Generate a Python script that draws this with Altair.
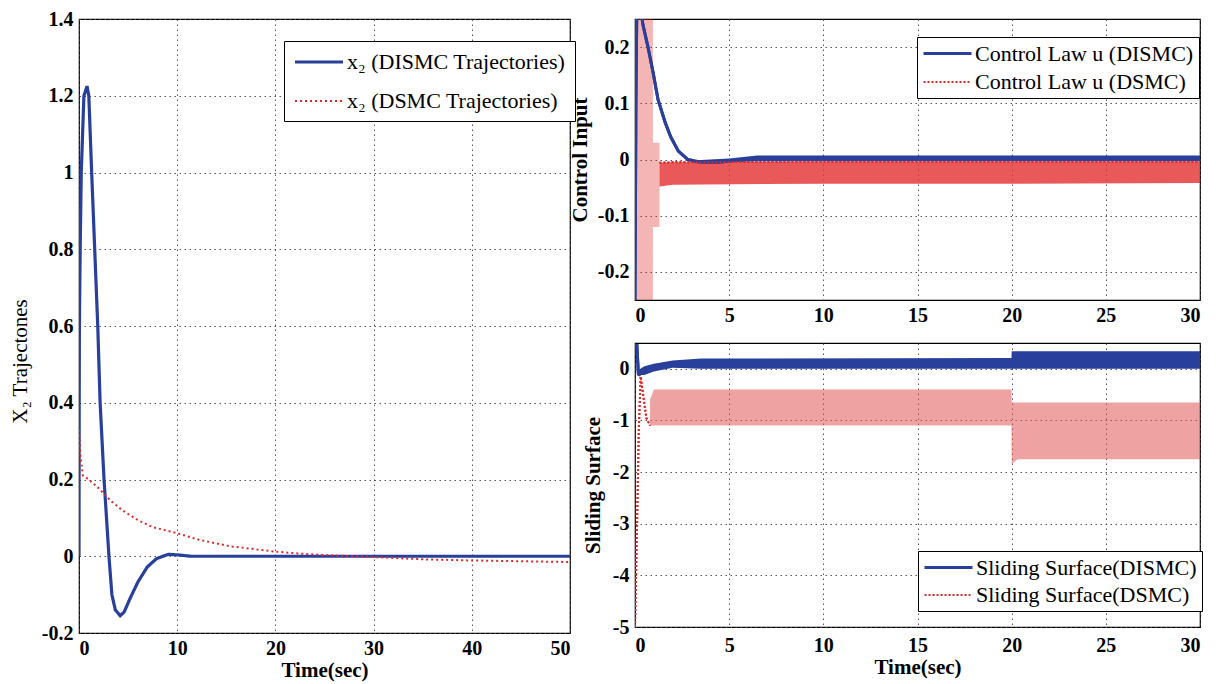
import altair as alt
import pandas as pd

SERIF = "Liberation Serif"
BLUE = "#283f9c"
RED = "#e02a2a"

# ---------------- Left panel: x2 trajectories ----------------
L_T_DISMC = [0, 0.02, 0.04, 0.12, 0.23, 0.5, 0.82, 1.0, 1.29, 1.6, 1.91, 2.15, 2.55, 3.05, 3.35, 3.7,
             4.2, 4.6, 5.2, 6.0, 6.95, 7.9, 9.1, 10.3, 11.4, 20, 30, 40, 50]
L_X_DISMC = [0.0, 0.4, 0.6, 0.8, 1.0, 1.2, 1.225, 1.2, 1.0, 0.8, 0.6, 0.4, 0.2, 0.0, -0.1, -0.14,
             -0.155, -0.145, -0.11, -0.067, -0.028, -0.006, 0.005, 0.003, 0.0, 0.0, 0.0, 0.0, 0.0]
L_T_DSMC = [0, 0.15, 0.4, 1.0, 2.1, 3.2, 4.4, 6.0, 7.5, 10, 12.2, 15.4, 20, 23, 26, 30, 35, 40, 45, 50]
L_X_DSMC = [0.33, 0.26, 0.21, 0.2, 0.175, 0.145, 0.12, 0.094, 0.076, 0.06, 0.043, 0.026, 0.012,
            0.006, 0.002, -0.002, -0.008, -0.011, -0.013, -0.015]
L_NAMES = ["x\u2082 (DISMC Trajectories)", "x\u2082 (DSMC Trajectories)"]

# ---------------- Top right: control input ----------------
C_T_DISMC = [0, 0.05, 0.1, 0.3, 0.42, 0.69, 0.96, 1.22, 1.6, 1.9, 2.3, 2.8, 3.5, 4.4, 5.3, 6.5, 30]
C_U_DISMC = [-0.25, 0.1, 0.28, 0.27, 0.24, 0.2, 0.155, 0.107, 0.066, 0.04, 0.015, 0.0, -0.005,
             -0.005, -0.002, 0.002, 0.002]
C_BAND_DISMC_T = [3.0, 5.0, 6.5, 30]
C_BAND_DISMC_LO = [-0.006, -0.005, -0.003, -0.003]
C_BAND_DISMC_HI = [-0.002, 0.002, 0.007, 0.007]
C_BURST_DSMC_T = [0.08, 0.95, 0.951, 1.3]
C_BURST_DSMC_LO = [-0.25, -0.25, -0.12, -0.12]
C_BURST_DSMC_HI = [0.25, 0.25, 0.03, 0.03]
C_BAND_DSMC_T = [1.3, 2.0, 10, 20, 30]
C_BAND_DSMC_LO = [-0.048, -0.045, -0.043, -0.043, -0.042]
C_BAND_DSMC_HI = [-0.006, -0.005, -0.004, -0.004, -0.004]
C_NAMES = ["Control Law u (DISMC)", "Control Law u (DSMC)"]

# ---------------- Bottom right: sliding surface ----------------
S_T_DISMC = [0, 0.1, 0.18, 0.3]
S_V_DISMC = [0.45, 0.45, -0.1, -0.12]
S_BAND_DISMC_T = [0.2, 0.5, 1.0, 2.0, 3.5, 19.99, 20.0, 30]
S_BAND_DISMC_LO = [-0.12, -0.12, -0.05, 0.02, 0.0, 0.0, 0.0, 0.0]
S_BAND_DISMC_HI = [-0.02, 0.05, 0.1, 0.16, 0.2, 0.21, 0.34, 0.34]
S_T_DSMC = [0, 0.1, 0.2, 0.3, 0.45, 0.6, 0.8]
S_V_DSMC = [-5.0, -3.2, -1.2, -0.15, -0.55, -0.95, -1.1]
S_BAND_DSMC_T = [0.8, 1.0, 5, 10, 19.99, 20.0, 20.3, 25, 30]
S_BAND_DSMC_LO = [-1.1, -1.1, -1.1, -1.1, -1.1, -1.85, -1.75, -1.75, -1.75]
S_BAND_DSMC_HI = [-0.6, -0.4, -0.4, -0.4, -0.4, -0.65, -0.65, -0.65, -0.65]
S_NAMES = ["Sliding Surface(DISMC)", "Sliding Surface(DSMC)"]

LABEL_EXPR = ("datum.value == 0 ? '0' : (datum.value < 0 ? '-' + format(-datum.value, '~g') "
              ": format(datum.value, '~g'))")

# legend line symbol: starts at the left of a 20px symbol cell and runs ~48px to the right
LEG_SYMBOL = "M-1,0L3.8,0"


def lines_df(t1, v1, t2, v2, names):
    rows = []
    for i, (t, v) in enumerate(zip(t1, v1)):
        rows.append({"t": t, "v": v, "s": names[0], "i": i})
    for i, (t, v) in enumerate(zip(t2, v2)):
        rows.append({"t": t, "v": v, "s": names[1], "i": i})
    return pd.DataFrame(rows)


def band_df(t, lo, hi):
    return pd.DataFrame({"t": t, "lo": lo, "hi": hi})


def make_legend(x, y, font, row_pad, pad):
    return alt.Legend(orient="none", legendX=x, legendY=y, title=None,
                      fillColor="white", strokeColor="black", padding=pad,
                      symbolType=LEG_SYMBOL, symbolSize=400,
                      symbolStrokeWidth=2.5, labelFont=SERIF, labelFontSize=font,
                      labelColor="black", rowPadding=row_pad, labelOffset=30,
                      labelLimit=400)


def xaxis(values, title, label_pad=5):
    kw = dict(values=values, labelExpr=LABEL_EXPR, labelPadding=label_pad)
    if title:
        kw.update(title=title, titleFontWeight="bold", titlePadding=1, titleFontSize=21)
    else:
        kw.update(title=None)
    return alt.Axis(**kw)


def yaxis(values, title, weight, pad, **extra):
    return alt.Axis(values=values, labelExpr=LABEL_EXPR, title=title, titleFontWeight=weight,
                    titlePadding=pad, labelPadding=6, titleFontSize=21, **extra)


def panel(ldf, names, xdom, xvals, xtitle, ydom, yvals, ytitle, yweight, ypad, legend,
          w, h, bands, label_pad=5):
    x = alt.X("t:Q", scale=alt.Scale(domain=xdom, nice=False, zero=False),
              axis=xaxis(xvals, xtitle, label_pad))
    y = alt.Y("v:Q", scale=alt.Scale(domain=ydom, nice=False, zero=False),
              axis=yaxis(yvals, ytitle, yweight, ypad))
    layers = []
    for bdf, color, op in bands:
        layers.append(
            alt.Chart(bdf).mark_area(color=color, opacity=op, clip=True, interpolate="linear").encode(
                x=alt.X("t:Q", scale=alt.Scale(domain=xdom, nice=False, zero=False)),
                y=alt.Y("lo:Q", scale=alt.Scale(domain=ydom, nice=False, zero=False)),
                y2="hi:Q",
            )
        )
    line = alt.Chart(ldf).mark_line(clip=True).encode(
        x=x, y=y,
        color=alt.Color("s:N", scale=alt.Scale(domain=names, range=[BLUE, RED]), legend=legend),
        strokeDash=alt.StrokeDash("s:N", scale=alt.Scale(domain=names, range=[[1, 0], [2, 2]]),
                                  legend=legend),
        strokeWidth=alt.StrokeWidth("s:N", scale=alt.Scale(domain=names, range=[3, 2]),
                                    legend=None),
        order="i:Q",
    )
    return alt.layer(line, *layers, line).properties(width=w, height=h)


left_df = lines_df(L_T_DISMC, L_X_DISMC, L_T_DSMC, L_X_DSMC, L_NAMES)
left_leg = make_legend(205, 22, 22, 17, 9)
left = alt.layer(
    alt.Chart(left_df).mark_line(clip=True).encode(
        x=alt.X("t:Q", scale=alt.Scale(domain=[0, 50], nice=False),
                axis=xaxis([0, 10, 20, 30, 40, 50], "Time(sec)")),
        y=alt.Y("v:Q", scale=alt.Scale(domain=[-0.2, 1.4], nice=False),
                axis=yaxis([-0.2, 0, 0.2, 0.4, 0.6, 0.8, 1.0, 1.2, 1.4], "X\u2082 Trajectones",
                           "normal", 11, titleY=342)),
        color=alt.Color("s:N", scale=alt.Scale(domain=L_NAMES, range=[BLUE, RED]), legend=left_leg),
        strokeDash=alt.StrokeDash("s:N", scale=alt.Scale(domain=L_NAMES, range=[[1, 0], [2, 3]]),
                                  legend=left_leg),
        strokeWidth=alt.StrokeWidth("s:N", scale=alt.Scale(domain=L_NAMES, range=[3.2, 2]), legend=None),
        order="i:Q",
    )
).properties(width=491, height=614)

ctrl_df = lines_df(C_T_DISMC, C_U_DISMC, [C_BAND_DSMC_T[0]] + C_BAND_DSMC_T,
                   [C_BAND_DSMC_HI[0]] + C_BAND_DSMC_HI, C_NAMES)
ctrl = panel(
    ctrl_df, C_NAMES, [0, 30], [0, 5, 10, 15, 20, 25, 30], None,
    [-0.25, 0.25], [-0.2, -0.1, 0, 0.1, 0.2], "Control Input", "bold", 7,
    make_legend(282, 18, 22, 6, 5), 565, 281,
    [
        (band_df(C_BURST_DSMC_T, C_BURST_DSMC_LO, C_BURST_DSMC_HI), RED, 0.35),
        (band_df(C_BAND_DSMC_T, C_BAND_DSMC_LO, C_BAND_DSMC_HI), "#e43434", 0.82),
        (band_df(C_BAND_DISMC_T, C_BAND_DISMC_LO, C_BAND_DISMC_HI), BLUE, 1.0),
    ],
)

surf_df = lines_df(S_T_DISMC, S_V_DISMC, S_T_DSMC, S_V_DSMC, S_NAMES)
surf = panel(
    surf_df, S_NAMES, [0, 30], [0, 5, 10, 15, 20, 25, 30], "Time(sec)",
    [-5, 0.5], [-5, -4, -3, -2, -1, 0], "Sliding Surface", "bold", 9,
    make_legend(283, 208, 22, 5, 5), 565, 284,
    [
        (band_df(S_BAND_DSMC_T, S_BAND_DSMC_LO, S_BAND_DSMC_HI), "#e05555", 0.55),
        (band_df(S_BAND_DISMC_T, S_BAND_DISMC_LO, S_BAND_DISMC_HI), BLUE, 1.0),
    ],
    label_pad=8,
)

right = alt.vconcat(ctrl, surf, spacing=43, bounds="flush").resolve_scale(
    color="independent", strokeDash="independent", strokeWidth="independent")

chart = alt.hconcat(left, right, spacing=65, bounds="flush").resolve_scale(
    color="independent", strokeDash="independent", strokeWidth="independent"
).properties(
    padding={"left": 8, "top": 8, "right": 5, "bottom": 5}
).configure(
    font=SERIF,
).configure_view(
    stroke="black", strokeWidth=1.2
).configure_axis(
    labelFont=SERIF, labelFontSize=20, labelFontWeight="bold", labelColor="black",
    titleFont=SERIF, titleFontSize=21, titleColor="black",
    grid=True, gridColor="#444", gridDash=[1.5, 3.5], gridOpacity=0.9,
    ticks=False, domain=False,
)

chart.save("out.html", embed_options={"renderer": "svg", "actions": False})
